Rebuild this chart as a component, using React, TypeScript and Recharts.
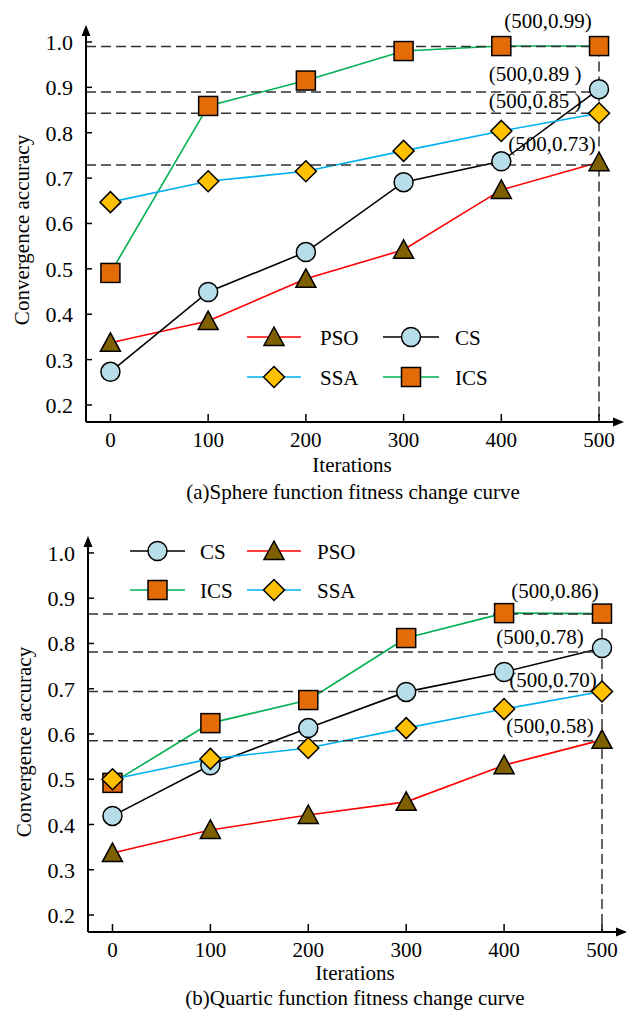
import { LineChart, Line, XAxis, YAxis, ReferenceLine, ReferenceDot, Legend } from 'recharts'

const FONT = 'Liberation Serif, DejaVu Serif, serif'

const iterations = [0, 100, 200, 300, 400, 500]
const xTicks = [0, 100, 200, 300, 400, 500]
const yTicks = [0.2, 0.3, 0.4, 0.5, 0.6, 0.7, 0.8, 0.9, 1.0]
const xDomain = [-25, 523.5]
const yDomain = [0.1625, 1.033]

// (a) Sphere function
const spherePSO = [0.337, 0.385, 0.478, 0.542, 0.674, 0.735]
const sphereCS = [0.273, 0.449, 0.537, 0.691, 0.737, 0.896]
const sphereSSA = [0.647, 0.693, 0.715, 0.76, 0.804, 0.843]
const sphereICS = [0.491, 0.859, 0.915, 0.98, 0.991, 0.991]
const sphereMarks = [0.99, 0.89, 0.843, 0.729]
const sphereMarkLabels = ['(500,0.99)', '(500,0.89 )', '(500,0.85 )', '(500,0.73)']

// (b) Quartic function
const quarticCS = [0.419, 0.531, 0.613, 0.693, 0.737, 0.79]
const quarticPSO = [0.337, 0.388, 0.421, 0.45, 0.531, 0.587]
const quarticSSA = [0.5, 0.545, 0.569, 0.613, 0.655, 0.694]
const quarticICS = [0.492, 0.624, 0.675, 0.812, 0.867, 0.866]
const quarticMarks = [0.865, 0.781, 0.694, 0.585]
const quarticMarkLabels = ['(500,0.86)', '(500,0.78)', '(500,0.70)', '(500,0.58)']

type Kind = 'circle' | 'square' | 'triangle' | 'diamond'

const styles: Record<string, { stroke: string; kind: Kind }> = {
  PSO: { stroke: '#ff0000', kind: 'triangle' },
  CS: { stroke: '#000000', kind: 'circle' },
  SSA: { stroke: '#00b0f0', kind: 'diamond' },
  ICS: { stroke: '#00b050', kind: 'square' },
}

function Marker({ kind, cx, cy }: { kind: Kind; cx: number; cy: number }) {
  const common = { stroke: '#000', strokeWidth: 1.5 }
  if (kind === 'circle') return <circle cx={cx} cy={cy} r={9.5} fill="#b7dde8" {...common} />
  if (kind === 'square')
    return <rect x={cx - 9.5} y={cy - 9.5} width={19} height={19} fill="#e36c09" {...common} />
  if (kind === 'triangle')
    return (
      <polygon
        points={`${cx},${cy - 10} ${cx + 10},${cy + 8.5} ${cx - 10},${cy + 8.5}`}
        fill="#7f6000"
        {...common}
      />
    )
  return (
    <polygon
      points={`${cx},${cy - 10.5} ${cx + 10.5},${cy} ${cx},${cy + 10.5} ${cx - 10.5},${cy}`}
      fill="#ffc000"
      {...common}
    />
  )
}

const YTick = (p: any) => (
  <g>
    <line x1={p.x} y1={p.y} x2={p.x + 6} y2={p.y} stroke="#000" strokeWidth={1.5} />
    <text x={p.x - 13} y={p.y + 8} textAnchor="end" fontSize={22} fontFamily={FONT} fill="#000">
      {Number(p.payload.value).toFixed(1)}
    </text>
  </g>
)

const XTick = (p: any) => (
  <g>
    <line x1={p.x} y1={p.y} x2={p.x} y2={p.y - 8} stroke="#000" strokeWidth={1.5} />
    <text x={p.x} y={p.y + 25} textAnchor="middle" fontSize={21} fontFamily={FONT} fill="#000">
      {p.payload.value}
    </text>
  </g>
)

interface LegendSpec {
  order: string[]
  cols: { x1: number; x2: number; tx: number }[]
  rows: number[]
  left: number
  top: number
}

function LegendBox({ spec }: { spec: LegendSpec }) {
  return (
    <svg width={300} height={90} style={{ overflow: 'visible' }}>
      {spec.order.map((name, i) => {
        const col = spec.cols[i % 2]
        const cy = spec.rows[Math.floor(i / 2)]
        const st = styles[name]
        return (
          <g key={name}>
            <line x1={col.x1} y1={cy} x2={col.x2} y2={cy} stroke={st.stroke} strokeWidth={1.5} />
            <Marker kind={st.kind} cx={(col.x1 + col.x2) / 2} cy={cy} />
            <text x={col.tx} y={cy + 7.5} fontSize={21} fontFamily={FONT} fill="#000">
              {name}
            </text>
          </g>
        )
      })}
    </svg>
  )
}

interface PanelProps {
  series: Record<string, number[]>
  drawOrder: string[]
  marks: number[]
  markLabels: string[]
  labelOffsets: { dx: number; dy: number }[]
  legend: LegendSpec
  height: number
  margin: { top: number; right: number; left: number; bottom: number }
  yAxisWidth: number
}

function Panel({ series, drawOrder, marks, markLabels, labelOffsets, legend, height, margin, yAxisWidth }: PanelProps) {
  const data = iterations.map((x, i) => {
    const row: Record<string, number> = { x }
    Object.keys(series).forEach((k) => (row[k] = series[k][i]))
    return row
  })
  const lastX = iterations[iterations.length - 1]

  return (
    <LineChart width={630} height={height} data={data} margin={margin}>
      <XAxis
        dataKey="x"
        type="number"
        domain={xDomain}
        allowDataOverflow
        ticks={xTicks}
        interval={0}
        tickSize={0}
        tickMargin={0}
        tickLine={false}
        tick={<XTick />}
        axisLine={{ stroke: '#000', strokeWidth: 2 }}
        height={40}
      />
      <YAxis
        type="number"
        domain={yDomain}
        allowDataOverflow
        ticks={yTicks}
        interval={0}
        tickSize={0}
        tickMargin={0}
        tickLine={false}
        tick={<YTick />}
        axisLine={{ stroke: '#000', strokeWidth: 2 }}
        width={yAxisWidth}
      />
      {drawOrder.map((name) => {
        const st = styles[name]
        return (
          <Line
            key={name}
            dataKey={name}
            name={name}
            type="linear"
            stroke={st.stroke}
            strokeWidth={1.6}
            isAnimationActive={false}
            dot={(p: any) => <Marker key={`${name}-${p.index}`} kind={st.kind} cx={p.cx} cy={p.cy} />}
            activeDot={false}
          />
        )
      })}
      {marks.map((v) => (
        <ReferenceLine
          key={`h-${v}`}
          segment={[
            { x: xDomain[0], y: v },
            { x: lastX, y: v },
          ]}
          stroke="#333"
          strokeWidth={1.5}
          strokeDasharray="10 5"
          ifOverflow="visible"
        />
      ))}
      <ReferenceLine
        segment={[
          { x: lastX, y: marks[0] },
          { x: lastX, y: yDomain[0] },
        ]}
        stroke="#333"
        strokeWidth={1.5}
        strokeDasharray="10 5"
        ifOverflow="visible"
      />
      {marks.map((v, i) => (
        <ReferenceDot
          key={`l-${v}`}
          x={lastX}
          y={v}
          r={0}
          ifOverflow="visible"
          shape={(p: any) => (
            <text
              x={p.cx + labelOffsets[i].dx}
              y={p.cy + labelOffsets[i].dy}
              textAnchor="middle"
              fontSize={21}
              fontFamily={FONT}
              fill="#000"
            >
              {markLabels[i]}
            </text>
          )}
        />
      ))}
      <ReferenceDot
        x={xDomain[0]}
        y={yDomain[1]}
        r={0}
        ifOverflow="visible"
        shape={(p: any) => (
          <polygon points={`${p.cx},${p.cy - 2} ${p.cx + 4.5},${p.cy + 9} ${p.cx - 4.5},${p.cy + 9}`} fill="#000" />
        )}
      />
      <ReferenceDot
        x={xDomain[1]}
        y={yDomain[0]}
        r={0}
        ifOverflow="visible"
        shape={(p: any) => (
          <polygon points={`${p.cx + 2},${p.cy} ${p.cx - 9},${p.cy - 4.5} ${p.cx - 9},${p.cy + 4.5}`} fill="#000" />
        )}
      />
      <Legend
        layout="vertical"
        align="center"
        verticalAlign="middle"
        wrapperStyle={{ left: legend.left, top: legend.top, width: 300, height: 90 }}
        content={() => <LegendBox spec={legend} />}
      />
    </LineChart>
  )
}

export default function App() {
  return (
    <div style={{ position: 'absolute', left: 0, top: 0, width: 630, height: 1012, background: '#fff' }}>
      <Panel
        series={{ PSO: spherePSO, CS: sphereCS, SSA: sphereSSA, ICS: sphereICS }}
        drawOrder={['ICS', 'PSO', 'CS', 'SSA']}
        marks={sphereMarks}
        markLabels={sphereMarkLabels}
        labelOffsets={[
          { dx: -51, dy: -19 },
          { dx: -64, dy: -11 },
          { dx: -64, dy: -5 },
          { dx: -47, dy: -14 },
        ]}
        legend={{
          order: ['PSO', 'CS', 'SSA', 'ICS'],
          cols: [
            { x1: 7, x2: 61, tx: 80 },
            { x1: 143, x2: 199, tx: 215 },
          ],
          rows: [22, 62],
          left: 240,
          top: 315,
        }}
        height={510}
        margin={{ top: 27, right: 8, left: 0, bottom: 48 }}
        yAxisWidth={86}
      />
      <div style={{ position: 'absolute', left: 0, top: 510 }}>
        <Panel
          series={{ CS: quarticCS, PSO: quarticPSO, SSA: quarticSSA, ICS: quarticICS }}
          drawOrder={['ICS', 'PSO', 'CS', 'SSA']}
          marks={quarticMarks}
          markLabels={quarticMarkLabels}
          labelOffsets={[
            { dx: -47, dy: -16 },
            { dx: -62, dy: -8 },
            { dx: -49, dy: -4 },
            { dx: -52, dy: -8 },
          ]}
          legend={{
            order: ['CS', 'PSO', 'ICS', 'SSA'],
            cols: [
              { x1: 10, x2: 65, tx: 80 },
              { x1: 127, x2: 181, tx: 197 },
            ],
            rows: [21, 60],
            left: 120,
            top: 20,
          }}
          height={502}
          margin={{ top: 28, right: 5, left: 0, bottom: 40 }}
          yAxisWidth={88}
        />
      </div>
      <svg
        width={630}
        height={1012}
        style={{ position: 'absolute', left: 0, top: 0, pointerEvents: 'none' }}
        fontFamily={FONT}
        fill="#000"
      >
        <text x={29} y={230} transform="rotate(-90 29 230)" textAnchor="middle" fontSize={21}>
          Convergence accuracy
        </text>
        <text x={352} y={472} textAnchor="middle" fontSize={21}>
          Iterations
        </text>
        <text x={353} y={499} textAnchor="middle" fontSize={21}>
          (a)Sphere function fitness change curve
        </text>
        <text x={31} y={742} transform="rotate(-90 31 742)" textAnchor="middle" fontSize={21}>
          Convergence accuracy
        </text>
        <text x={355} y={980} textAnchor="middle" fontSize={21}>
          Iterations
        </text>
        <text x={355} y={1005} textAnchor="middle" fontSize={21}>
          (b)Quartic function fitness change curve
        </text>
      </svg>
    </div>
  )
}
